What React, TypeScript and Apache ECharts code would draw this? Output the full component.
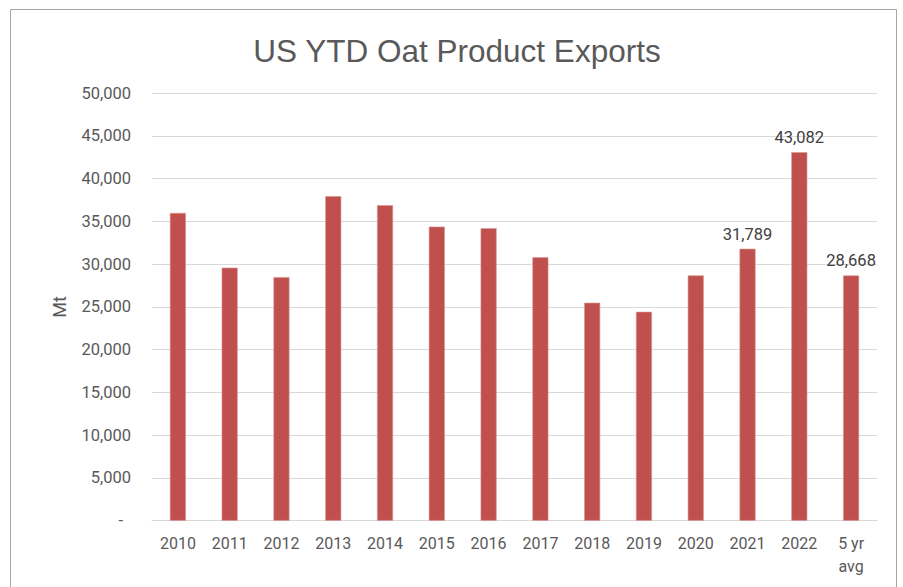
import React, { useEffect, useRef } from "react";
import * as echarts from "echarts";

const categories = ["2010", "2011", "2012", "2013", "2014", "2015", "2016", "2017", "2018", "2019", "2020", "2021", "2022", "5 yr\navg"];
const exportsMt = [35980, 29580, 28480, 37940, 36880, 34380, 34180, 30790, 25480, 24420, 28680, 31789, 43082, 28668];
const labelledCategories = ["2021", "2022", "5 yr\navg"];
const yTicks = { min: 0, max: 50000, interval: 5000 };
const titleText = "US YTD Oat Product Exports";
const yAxisName = "Mt";

export default function App() {
  const ref = useRef<HTMLDivElement>(null);
  useEffect(() => {
    if (!ref.current) return;
    const chart = echarts.init(ref.current, null, { renderer: "svg" });
    const fmt = (v: number) => v.toLocaleString("en-US");
    chart.setOption({
      animation: false,
      backgroundColor: "#ffffff",
      title: {
        text: titleText,
        left: 452,
        textAlign: "center",
        top: 30,
        textStyle: {
          fontFamily: "Liberation Sans, Arial, sans-serif",
          fontSize: 31.5,
          fontWeight: "normal",
          color: "#595959",
        },
      },
      graphic: [
        {
          type: "rect",
          shape: { x: 10.5, y: 9.5, width: 886, height: 620 },
          style: { fill: "none", stroke: "#a6a6a6", lineWidth: 1 },
          silent: true,
        },
      ],
      grid: { left: 152, right: 26, top: 93, bottom: 66.3, containLabel: false },
      xAxis: {
        type: "category",
        data: categories,
        axisLine: { show: true, lineStyle: { color: "#d9d9d9", width: 1 } },
        axisTick: { show: false },
        axisLabel: {
          interval: 0,
          margin: 11,
          fontFamily: "Roboto, sans-serif",
          fontSize: 16,
          lineHeight: 23,
          color: "#595959",
        },
      },
      yAxis: {
        type: "value",
        min: yTicks.min,
        max: yTicks.max,
        interval: yTicks.interval,
        name: yAxisName,
        nameLocation: "middle",
        nameGap: 84,
        nameTextStyle: { fontFamily: "Roboto, sans-serif", fontSize: 18, color: "#595959" },
        axisLine: { show: false },
        axisTick: { show: false },
        splitLine: { lineStyle: { color: "#d9d9d9", width: 1 } },
        axisLabel: {
          margin: 21,
          fontFamily: "Roboto, sans-serif",
          fontSize: 16.5,
          color: "#595959",
          formatter: (v: number) => (v === 0 ? "{z|-}" : fmt(v)),
          rich: { z: { padding: [0, 8, 0, 0], fontSize: 16.5, color: "#595959", fontFamily: "Roboto, sans-serif" } },
        },
      },
      series: [
        {
          type: "bar",
          barWidth: 16,
          data: exportsMt.map((v, i) => ({
            value: v,
            label: {
              show: labelledCategories.includes(categories[i]),
              position: "top",
              distance: 6,
              formatter: () => fmt(v),
              fontFamily: "Roboto, sans-serif",
              fontSize: 16.5,
              color: "#404040",
            },
          })),
          itemStyle: { color: "#c0504d", borderColor: "#d99594", borderWidth: 0.6 },
        },
      ],
    });
    return () => chart.dispose();
  }, []);
  return (
    <div
      ref={ref}
      style={{ position: "fixed", left: 0, top: 0, width: 903, height: 587 }}
    />
  );
}
